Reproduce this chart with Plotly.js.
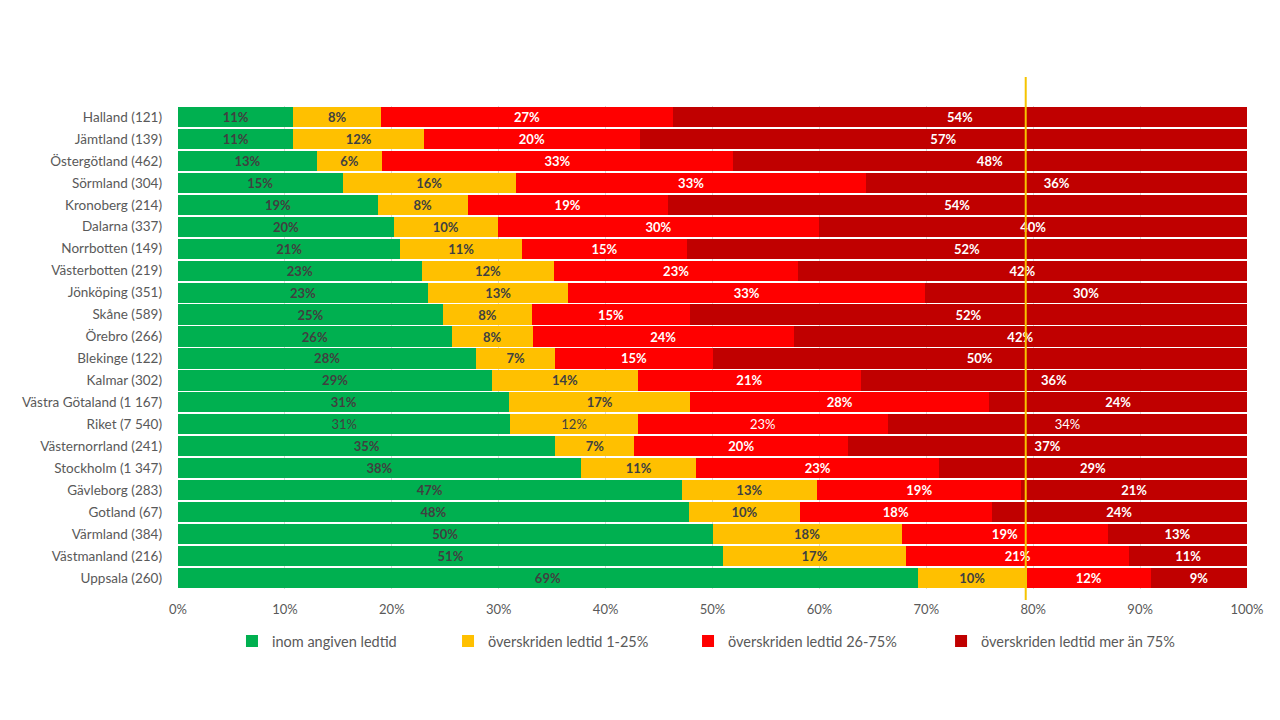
<!DOCTYPE html>
<html>
<head>
<meta charset="utf-8">
<script src="https://cdn.plot.ly/plotly-3.0.1.min.js"></script>
<style>html,body{margin:0;padding:0;background:#fff;}#chart{width:1280px;height:720px;}</style>
</head>
<body>
<div id="chart"></div>
<script>
const categories = ["Halland (121)","Jämtland (139)","Östergötland (462)","Sörmland (304)","Kronoberg (214)","Dalarna (337)","Norrbotten (149)","Västerbotten (219)","Jönköping (351)","Skåne (589)","Örebro (266)","Blekinge (122)","Kalmar (302)","Västra Götaland (1 167)","Riket (7 540)","Västernorrland (241)","Stockholm (1 347)","Gävleborg (283)","Gotland (67)","Värmland (384)","Västmanland (216)","Uppsala (260)"];
const inomLedtid      = [10.8,10.8,13.0,15.4,18.7,20.2,20.8,22.8,23.4,24.8,25.6,27.9,29.4,31.0,31.1,35.3,37.7,47.1,47.8,50.0,51.0,69.2];
const overskriden1_25 = [8.2,12.2,6.1,16.2,8.4,9.7,11.4,12.4,13.1,8.3,7.6,7.4,13.6,16.9,11.9,7.4,10.8,12.7,10.4,17.7,17.1,10.2];
const overskriden26_75= [27.3,20.2,32.8,32.8,18.7,30.1,15.4,22.8,33.4,14.8,24.4,14.7,20.9,28.0,23.4,20.0,22.7,19.1,17.9,19.3,20.9,11.6];
const overskridenOver75=[53.7,56.8,48.1,35.6,54.2,40.0,52.4,42.0,30.1,52.1,42.4,50.0,36.1,24.1,33.6,37.3,28.8,21.1,23.9,13.0,11.0,9.0];
const seriesNames = ["inom angiven ledtid","överskriden ledtid 1-25%","överskriden ledtid 26-75%","överskriden ledtid mer än 75%"];
const seriesColors = ["#00B050","#FFC000","#FF0000","#C00000"];
const textColors = ["#404040","#404040","#FFFFFF","#FFFFFF"];
const targetLine = 79.3;
const xTicks = [0,10,20,30,40,50,60,70,80,90,100];

const seriesValues = [inomLedtid, overskriden1_25, overskriden26_75, overskridenOver75];
const weights = categories.map(c => c.startsWith("Riket") ? "normal" : "bold");
const FONT = "Lato, 'Open Sans', sans-serif";
const legendIds = ["legend","legend2","legend3","legend4"];
const legendX = [0.0505, 0.2526, 0.4771, 0.7138];

const traces = seriesValues.map((vals, i) => ({
  type: "bar",
  orientation: "h",
  name: seriesNames[i],
  legend: legendIds[i],
  showlegend: true,
  y: categories,
  x: vals,
  marker: {color: seriesColors[i], line: {width: 0}},
  texttemplate: "%{x:.0f}%",
  textposition: "inside",
  insidetextanchor: "middle",
  textangle: 0,
  constraintext: "none",
  textfont: {family: FONT, size: 13, color: textColors[i], weight: weights},
  hoverinfo: "skip"
}));

const layout = {
  width: 1280, height: 720,
  paper_bgcolor: "#FFFFFF", plot_bgcolor: "#FFFFFF",
  barmode: "stack",
  bargap: 0.08,
  showlegend: true,
  margin: {l: 178, r: 33, t: 106, b: 131},
  font: {family: FONT, size: 13, color: "#595959"},
  uniformtext: {mode: "show", minsize: 13},
  xaxis: {
    range: [0, 100], tickvals: xTicks, ticktext: xTicks.map(v => v + "%"),
    showgrid: true, gridcolor: "#D9D9D9", gridwidth: 1, zeroline: false,
    showline: false, ticks: "", ticklabelstandoff: 11,
    tickfont: {family: FONT, size: 13, color: "#595959"}, fixedrange: true
  },
  yaxis: {
    type: "category", autorange: "reversed",
    showgrid: false, zeroline: false, showline: false, ticks: "",
    ticklabelstandoff: 15,
    tickfont: {family: FONT, size: 13.5, color: "#595959"}, fixedrange: true
  },
  shapes: [{
    type: "line", xref: "x", yref: "paper",
    x0: targetLine, x1: targetLine, y0: -0.023, y1: 1.06,
    line: {color: "#F5C400", width: 2}
  }]
};
legendIds.forEach((id, i) => {
  layout[id] = {
    orientation: "h", x: legendX[i], xanchor: "left", y: -0.108, yanchor: "middle",
    font: {family: FONT, size: 14.5, color: "#595959"},
    bgcolor: "rgba(0,0,0,0)", itemwidth: 30, visible: true
  };
});

Plotly.newPlot("chart", traces, layout, {displayModeBar: false, staticPlot: true});
</script>
</body>
</html>
